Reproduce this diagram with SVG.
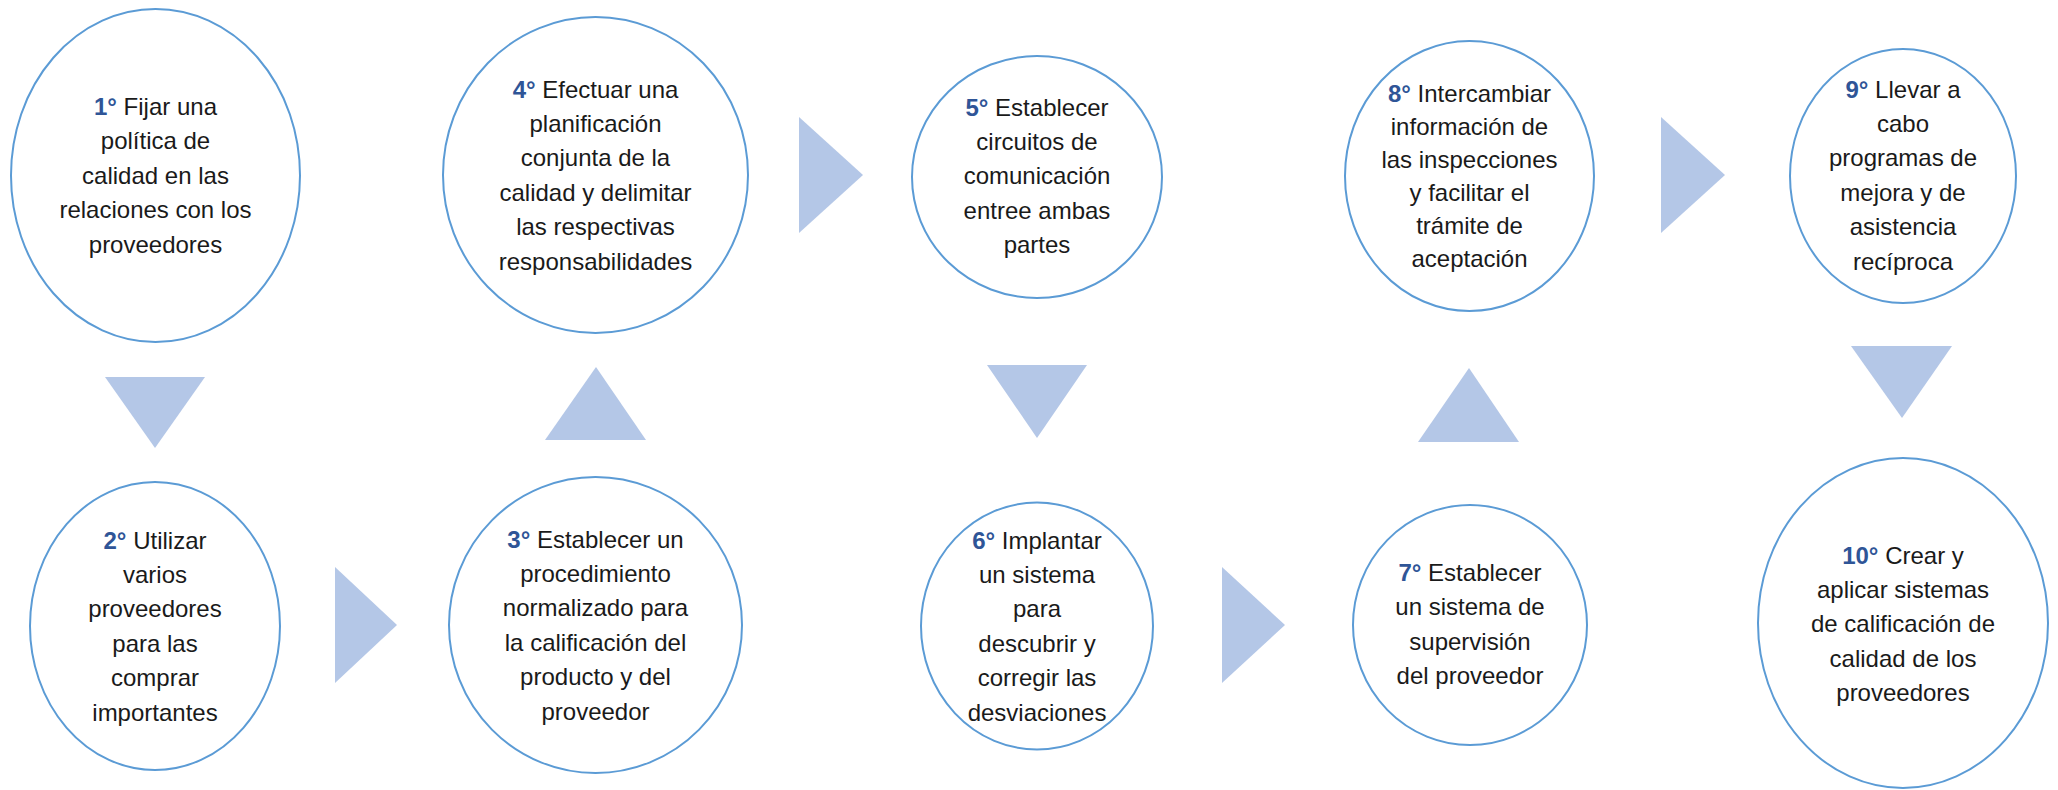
<svg xmlns="http://www.w3.org/2000/svg" width="2058" height="790" viewBox="0 0 2058 790">
<style>
.bg{fill:#ffffff}
.node ellipse{fill:#ffffff;stroke:#5B9BD5;stroke-width:2}
.node text{font-family:"Liberation Sans",Arial,sans-serif;font-size:24px;fill:#1a1a1a;text-anchor:middle}
.n{fill:#2F5597;font-weight:bold}
.tri{fill:#B4C7E7}
</style>
<rect class="bg" x="0" y="0" width="2058" height="790"/>
<g id="connectors">
<polygon class="tri" points="105,377 205,377 155,448"/>
<polygon class="tri" points="335,567 335,683 397,625"/>
<polygon class="tri" points="596,367 545,440 646,440"/>
<polygon class="tri" points="799,117 799,233 863,175"/>
<polygon class="tri" points="987,365 1087,365 1037,438"/>
<polygon class="tri" points="1222,567 1222,683 1285,625"/>
<polygon class="tri" points="1469,368 1418,442 1519,442"/>
<polygon class="tri" points="1661,117 1661,233 1725,175"/>
<polygon class="tri" points="1851,346 1952,346 1902,418"/>
</g>
<g id="node1" class="node">
<ellipse cx="155.5" cy="175.5" rx="144.5" ry="166.5"/>
<text><tspan x="155.5" y="115"><tspan class="n">1°</tspan> Fijar una</tspan><tspan x="155.5" y="149.4">política de</tspan><tspan x="155.5" y="183.8">calidad en las</tspan><tspan x="155.5" y="218.2">relaciones con los</tspan><tspan x="155.5" y="252.6">proveedores</tspan></text>
</g>
<g id="node2" class="node">
<ellipse cx="155" cy="626" rx="125" ry="144"/>
<text><tspan x="155" y="548.5"><tspan class="n">2°</tspan> Utilizar</tspan><tspan x="155" y="582.9">varios</tspan><tspan x="155" y="617.3">proveedores</tspan><tspan x="155" y="651.7">para las</tspan><tspan x="155" y="686.1">comprar</tspan><tspan x="155" y="720.5">importantes</tspan></text>
</g>
<g id="node3" class="node">
<ellipse cx="595.5" cy="625" rx="146.5" ry="148"/>
<text><tspan x="595.5" y="547.5"><tspan class="n">3°</tspan> Establecer un</tspan><tspan x="595.5" y="581.9">procedimiento</tspan><tspan x="595.5" y="616.3">normalizado para</tspan><tspan x="595.5" y="650.7">la calificación del</tspan><tspan x="595.5" y="685.1">producto y del</tspan><tspan x="595.5" y="719.5">proveedor</tspan></text>
</g>
<g id="node4" class="node">
<ellipse cx="595.5" cy="175" rx="152.5" ry="158"/>
<text><tspan x="595.5" y="97.5"><tspan class="n">4°</tspan> Efectuar una</tspan><tspan x="595.5" y="131.9">planificación</tspan><tspan x="595.5" y="166.3">conjunta de la</tspan><tspan x="595.5" y="200.7">calidad y delimitar</tspan><tspan x="595.5" y="235.1">las respectivas</tspan><tspan x="595.5" y="269.5">responsabilidades</tspan></text>
</g>
<g id="node5" class="node">
<ellipse cx="1037" cy="177" rx="125" ry="121"/>
<text><tspan x="1037" y="115.5"><tspan class="n">5°</tspan> Establecer</tspan><tspan x="1037" y="149.9">circuitos de</tspan><tspan x="1037" y="184.3">comunicación</tspan><tspan x="1037" y="218.7">entree ambas</tspan><tspan x="1037" y="253.1">partes</tspan></text>
</g>
<g id="node6" class="node">
<ellipse cx="1037" cy="626" rx="116" ry="123.5"/>
<text><tspan x="1037" y="548.5"><tspan class="n">6°</tspan> Implantar</tspan><tspan x="1037" y="582.9">un sistema</tspan><tspan x="1037" y="617.3">para</tspan><tspan x="1037" y="651.7">descubrir y</tspan><tspan x="1037" y="686.1">corregir las</tspan><tspan x="1037" y="720.5">desviaciones</tspan></text>
</g>
<g id="node7" class="node">
<ellipse cx="1470" cy="625" rx="117" ry="120"/>
<text><tspan x="1470" y="581"><tspan class="n">7°</tspan> Establecer</tspan><tspan x="1470" y="615.4">un sistema de</tspan><tspan x="1470" y="649.8">supervisión</tspan><tspan x="1470" y="684.2">del proveedor</tspan></text>
</g>
<g id="node8" class="node">
<ellipse cx="1469.5" cy="176" rx="124.5" ry="135"/>
<text><tspan x="1469.5" y="101.5"><tspan class="n">8°</tspan> Intercambiar</tspan><tspan x="1469.5" y="134.5">información de</tspan><tspan x="1469.5" y="167.5">las inspecciones</tspan><tspan x="1469.5" y="200.5">y facilitar el</tspan><tspan x="1469.5" y="233.5">trámite de</tspan><tspan x="1469.5" y="266.5">aceptación</tspan></text>
</g>
<g id="node9" class="node">
<ellipse cx="1903" cy="176" rx="113" ry="127"/>
<text><tspan x="1903" y="97.5"><tspan class="n">9°</tspan> Llevar a</tspan><tspan x="1903" y="131.9">cabo</tspan><tspan x="1903" y="166.3">programas de</tspan><tspan x="1903" y="200.7">mejora y de</tspan><tspan x="1903" y="235.1">asistencia</tspan><tspan x="1903" y="269.5">recíproca</tspan></text>
</g>
<g id="node10" class="node">
<ellipse cx="1903" cy="623" rx="145" ry="165"/>
<text><tspan x="1903" y="563.5"><tspan class="n">10°</tspan> Crear y</tspan><tspan x="1903" y="597.9">aplicar sistemas</tspan><tspan x="1903" y="632.3">de calificación de</tspan><tspan x="1903" y="666.7">calidad de los</tspan><tspan x="1903" y="701.1">proveedores</tspan></text>
</g>
</svg>
